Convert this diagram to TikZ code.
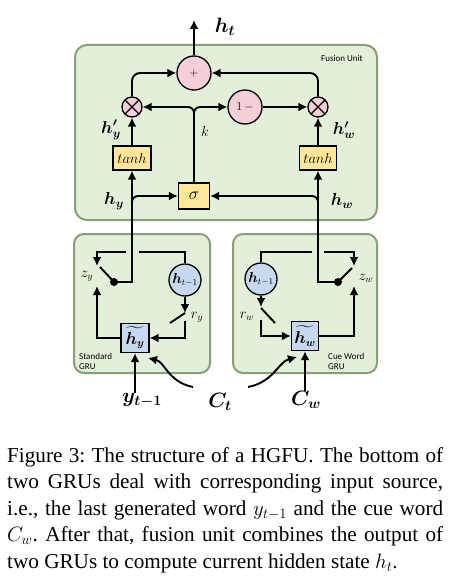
\documentclass[tikz,border=0pt]{standalone}
\usepackage{amsmath,bm}
\usepackage{fontspec}
\setmainfont{Liberation Serif}
\newfontfamily\carl{Carlito}
\usetikzlibrary{arrows.meta}
\definecolor{gfill}{HTML}{E2EFD9}
\definecolor{gline}{HTML}{8A9E78}
\definecolor{pinkc}{HTML}{F4CFD8}
\definecolor{bluec}{HTML}{C6D9F0}
\definecolor{yelc}{HTML}{FFE699}
\tikzset{
 conn/.style={line width=1.9pt, -{Latex[length=9pt,width=9pt]}},
 wire/.style={line width=1.9pt},
 unit/.style={draw=gline, line width=2pt, fill=gfill, rounded corners=12pt},
 opc/.style={circle, draw, line width=1.3pt, fill=pinkc, minimum size=34pt, inner sep=0pt},
 mulc/.style={circle, draw, line width=1.3pt, fill=pinkc, minimum size=20pt, inner sep=0pt,
   path picture={\draw[line width=1.3pt] (path picture bounding box.north west)--(path picture bounding box.south east)
     (path picture bounding box.south west)--(path picture bounding box.north east);}},
 ybox/.style={draw, line width=1.3pt, fill=yelc, inner sep=0pt, minimum height=24pt},
 bbox/.style={draw, line width=1.3pt, fill=bluec, inner sep=0pt, minimum width=28pt, minimum height=29pt},
 hcirc/.style={circle, draw, line width=1.3pt, fill=bluec, minimum size=32pt, inner sep=0pt},
 lab/.style={inner sep=0pt},
 big/.style={lab, font=\fontsize{20}{22}\selectfont},
 mid/.style={lab, font=\fontsize{18}{20}\selectfont},
 sml/.style={lab, font=\fontsize{14}{16}\selectfont},
 note/.style={lab, anchor=west, align=left, font=\carl\fontsize{9}{11}\selectfont},
 capline/.style={anchor=base west, inner sep=0pt, font=\fontsize{21.2}{24}\selectfont\frenchspacing},
 dot/.style={circle, fill, inner sep=0pt, minimum size=8pt},
}
\begin{document}
\begin{tikzpicture}[x=1pt,y=-1pt]
\useasboundingbox[fill=white] (0,0) rectangle (454,578);
% units
\draw[unit] (75,45) rectangle (377,220);
\draw[unit, rounded corners=10pt] (74,234) rectangle (210,373);
\draw[unit, rounded corners=10pt] (233,234) rectangle (377,373);
% fusion nodes
\node[opc] (plus) at (194,73) {\fontsize{12}{12}\selectfont $+$};
\node[mulc] (mulL) at (132,107) {};
\node[mulc] (mulR) at (318,107) {};
\node[opc] (onem) at (245,107) {\fontsize{13}{12}\selectfont $1\,-$};
\node[ybox, minimum width=38pt] (tanhL) at (132,158) {\fontsize{13.5}{14}\selectfont $tanh$};
\node[ybox, minimum width=37pt] (tanhR) at (318,158) {\fontsize{13.5}{14}\selectfont $tanh$};
\node[ybox, minimum width=31pt, minimum height=26pt] (sig) at (194,196) {\fontsize{19}{18}\selectfont $\sigma$};
\node[big] (ht) at (225,27) {$\boldsymbol{h_t}$};
\node[mid] (hpy) at (111,130) {$\boldsymbol{h'_y}$};
\node[mid] (hpw) at (344,130) {$\boldsymbol{h'_w}$};
\node[sml] (k) at (205,131) {$k$};
\node[mid] (hy) at (114,201) {$\boldsymbol{h_y}$};
\node[mid] (hw) at (342,201) {$\boldsymbol{h_w}$};
\node[note, anchor=center] (fu) at (342,58) {Fusion Unit};
\coordinate (htTip) at (194,20);
\coordinate (brL) at (132,214);
\coordinate (brR) at (318,214);
% fusion connectors
\draw[conn] (plus.north) -- (htTip);
\draw[conn, rounded corners=8pt] (mulL.north) |- (plus.west);
\draw[conn, rounded corners=8pt] (mulR.north) |- (plus.east);
\draw[conn, rounded corners=6pt] (sig.north) |- (mulL.east);
\draw[conn, rounded corners=6pt] (sig.north) |- (onem.west);
\draw[conn] (onem.east) -- (mulR.west);
\draw[conn] (tanhL.north) -- (mulL.south);
\draw[conn] (tanhR.north) -- (mulR.south);
\draw[conn, rounded corners=6pt] (brL) |- (sig.west);
\draw[conn, rounded corners=6pt] (brR) |- (sig.east);
% left GRU
\node[hcirc] (hL) at (185,280) {\fontsize{13.5}{14}\selectfont $\boldsymbol{h}_{t-1}$};
\node[dot] (dotL) at (114,282) {};
\node[bbox] (hbL) at (135,338) {\fontsize{16}{18}\selectfont $\widetilde{\boldsymbol{h}_{\boldsymbol{y}}}$};
\node[sml] (zy) at (87,276) {$z_y$};
\node[sml] (ry) at (197,317) {$r_y$};
\node[note] (stdL) at (79,361) {Standard\\[-1pt]GRU};
\coordinate (swL) at (100,267);
\coordinate (gapL1) at (139,252);
\coordinate (gapL2) at (126,252);
\coordinate (zyTip) at (97,266);
\coordinate (zyBot) at (97,286);
\coordinate (ryTip) at (185,313);
\coordinate (ryA) at (170,323);
\coordinate (ryB) at (185,313);
\coordinate (ryOut) at (185,321);
\draw[conn] (dotL.center) -| (tanhL.south);
\draw[wire] (dotL.center) -- (swL);
\draw[wire] (hL.north) |- (gapL1);
\draw[conn] (gapL2) -| (zyTip);
\draw[conn] (hL.south) -- (ryTip);
\draw[wire] (ryA) -- (ryB);
\draw[conn] (ryOut) |- (hbL.east);
\draw[conn] (hbL.west) -| (zyBot);
% right GRU
\node[hcirc] (hR) at (261,279) {\fontsize{13.5}{14}\selectfont $\boldsymbol{h}_{t-1}$};
\node[dot] (dotR) at (338,282) {};
\node[bbox, minimum width=27pt] (hbR) at (305,336) {\fontsize{16}{18}\selectfont $\widetilde{\boldsymbol{h}_{\boldsymbol{w}}}$};
\node[sml] (zw) at (366,278) {$z_w$};
\node[sml] (rw) at (247,316) {$r_w$};
\node[note] (stdR) at (328,361) {Cue Word\\[-1pt]GRU};
\coordinate (swR) at (352,268);
\coordinate (gapR1) at (312,252);
\coordinate (gapR2) at (324,252);
\coordinate (zwTip) at (354,266);
\coordinate (zwBot) at (354,286);
\coordinate (rwTip) at (261,307);
\coordinate (rwA) at (261,308);
\coordinate (rwB) at (275,323);
\coordinate (rwOut) at (261,320);
\draw[conn] (dotR.center) -| (tanhR.south);
\draw[wire] (dotR.center) -- (swR);
\draw[wire] (hR.north) |- (gapR1);
\draw[conn] (gapR2) -| (zwTip);
\draw[conn] (hR.south) -- (rwTip);
\draw[wire] (rwA) -- (rwB);
\draw[conn] (rwOut) |- (hbR.west);
\draw[conn] (hbR.east) -| (zwBot);
% inputs
\node[big] (yin) at (142,400) {$\boldsymbol{y_{t-1}}$};
\node[big] (ct) at (220,402) {$\boldsymbol{C_t}$};
\node[big] (cw) at (306,400) {$\boldsymbol{C_w}$};
\coordinate (ctL) at (193,387);
\coordinate (ctR) at (248,387);
\coordinate (tipL) at (148,358);
\coordinate (tipR) at (297,357);
\draw[conn] (yin.north -| hbL.south) -- (hbL.south);
\draw[conn] (cw.north -| hbR.south) -- (hbR.south);
\draw[conn] (ctL) .. controls (168,382) and (165,362) .. (tipL);
\draw[conn] (ctR) .. controls (274,382) and (278,362) .. (tipR);
% caption
\node[capline] (c1) at (7,462) {\makebox[436pt][s]{Figure 3: The structure of a HGFU. The bottom of}};
\node[capline] (c2) at (7,488.5) {\makebox[436pt][s]{two GRUs deal with corresponding input source,}};
\node[capline] (c3) at (7,515) {\makebox[436pt][s]{i.e., the last generated word $y_{t-1}$ and the cue word}};
\node[capline] (c4) at (7,541.5) {\makebox[436pt][s]{$C_w$. After that, fusion unit combines the output of}};
\node[capline] (c5) at (7,568) {two GRUs to compute current hidden state $h_t$.};
\end{tikzpicture}
\end{document}
